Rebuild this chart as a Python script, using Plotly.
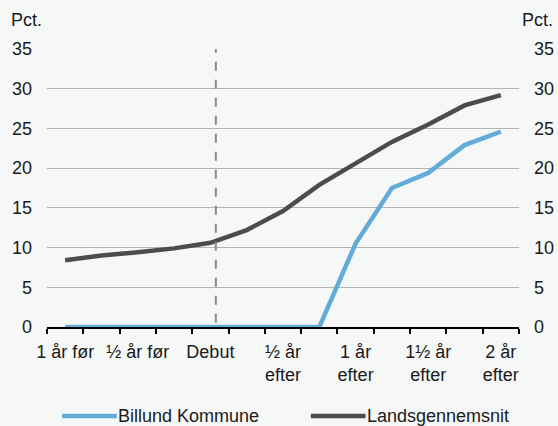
import plotly.graph_objects as go

# perioder (kvartaler omkring debut)
periods = list(range(13))
tick_pos = [0, 2, 4, 6, 8, 10, 12]
tick_labels = ["1 år før", "½ år før", "Debut", "½ år<br>efter",
               "1 år<br>efter", "1½ år<br>efter", "2 år<br>efter"]

billund = [0, 0, 0, 0, 0, 0, 0, 0, 10.5, 17.5, 19.4, 22.9, 24.6]
lands = [8.4, 9.0, 9.4, 9.9, 10.6, 12.2, 14.6, 17.9, 20.6, 23.3, 25.5, 27.9, 29.2]
debut_pos = 4.15

BLUE, DARK = "#64acd8", "#4b4b50"
font = dict(family="Liberation Sans, Arial, sans-serif", size=18, color="#1a1a1a")

fig = go.Figure()
fig.add_trace(go.Scatter(x=periods, y=billund, mode="lines", name="Billund Kommune",
                         line=dict(color=BLUE, width=4.5), showlegend=False))
fig.add_trace(go.Scatter(x=periods, y=lands, mode="lines", name="Landsgennemsnit",
                         line=dict(color=DARK, width=4.5), showlegend=False))
# usynlig trace for højre akse
fig.add_trace(go.Scatter(x=periods, y=lands, yaxis="y2", mode="lines",
                         line=dict(width=0), showlegend=False, hoverinfo="skip"))

fig.add_shape(type="line", x0=debut_pos, x1=debut_pos, y0=-4, y1=35,
              xref="x", yref="y", line=dict(color="#8a8a8a", width=2, dash="dash"))

# forklaring (legend) i bunden, tegnet manuelt for at få lange linjestykker
legend_items = [("Billund Kommune", BLUE, 0.032), ("Landsgennemsnit", DARK, 0.559)]
for name, col, x0 in legend_items:
    fig.add_shape(type="line", xref="paper", yref="paper", x0=x0, x1=x0 + 0.116,
                  y0=-0.32, y1=-0.32, line=dict(color=col, width=4.5))
    fig.add_annotation(text=name, xref="paper", yref="paper", x=x0 + 0.114, y=-0.32,
                       xanchor="left", yanchor="middle", showarrow=False)

fig.update_layout(
    width=558, height=426,
    margin=dict(l=47, r=39, t=49, b=99),
    paper_bgcolor="#f6f8f8", plot_bgcolor="#f6f8f8",
    font=font,
    xaxis=dict(range=[-0.5, 12.5], tickmode="array", tickvals=tick_pos,
               ticktext=tick_labels, showgrid=False, zeroline=False,
               showline=True, linecolor="black", linewidth=2, automargin=False,
               ticks="", ticklabelstandoff=7,
               minor=dict(tickmode="linear", tick0=0.5, dtick=1, ticks="outside",
                          ticklen=5, tickwidth=2, tickcolor="black", showgrid=False)),
    yaxis=dict(range=[0, 35], dtick=5, showgrid=True, gridcolor="#b3b3b3",
               gridwidth=1, zeroline=False, ticks="", ticklabelstandoff=14,
               automargin=False),
    yaxis2=dict(range=[0, 35], dtick=5, overlaying="y", side="right",
                showgrid=False, zeroline=False, ticks="", ticklabelstandoff=14,
                automargin=False),
)
fig.add_annotation(text="Pct.", xref="paper", yref="paper", x=-0.08, y=1.104,
                   xanchor="left", yanchor="middle", showarrow=False)
fig.add_annotation(text="Pct.", xref="paper", yref="paper", x=1.076, y=1.104,
                   xanchor="right", yanchor="middle", showarrow=False)

fig.write_html("out.html", config={"displayModeBar": False},
               post_script="document.body.style.margin='0';")
